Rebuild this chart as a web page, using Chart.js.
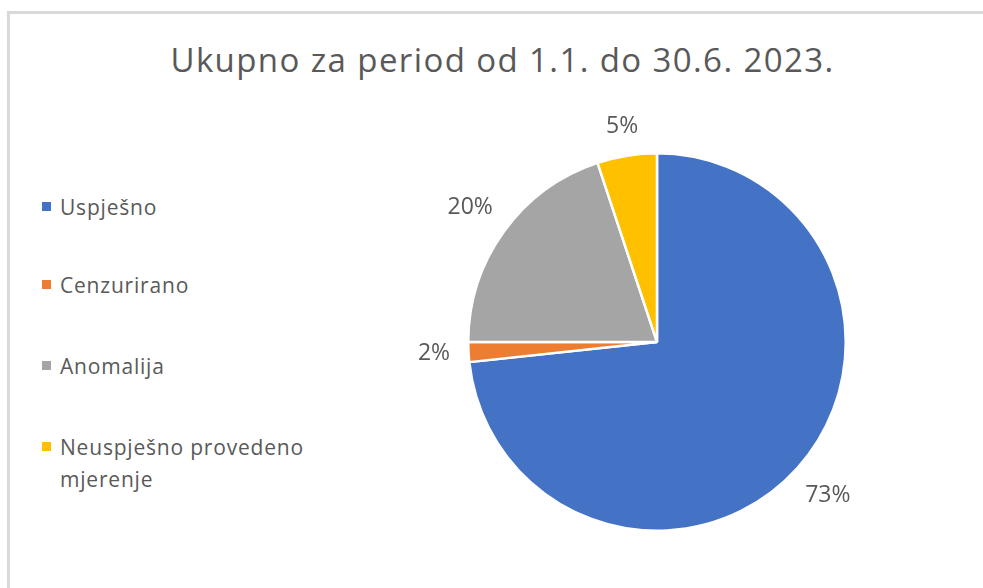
<!DOCTYPE html>
<html>
<head>
<meta charset="utf-8">
<script src="https://cdn.jsdelivr.net/npm/chart.js@4.4.0/dist/chart.umd.min.js"></script>
<style>
  html, body { margin: 0; padding: 0; background: #fff; }
  body { width: 983px; height: 588px; position: relative; overflow: hidden; font-family: "Open Sans", Lato, sans-serif; }
  #frame { position: absolute; left: 7px; top: 11px; width: 990px; height: 600px; border-left: 3px solid #d9d9d9; border-top: 3px solid #d9d9d9; }
  #title { position: absolute; left: 10px; width: 985px; top: 37px; text-align: center; font-size: 33px; letter-spacing: 1.4px; color: #595959; }
  #legend { position: absolute; left: 42px; top: 0; }
  .item { position: absolute; white-space: nowrap; font-size: 21px; letter-spacing: 0.8px; color: #595959; line-height: 32px; }
  .item span.box { position: absolute; left: 0; top: 11px; width: 9px; height: 9px; }
  .item span.txt { position: absolute; left: 18px; top: 0; }
  canvas { position: absolute; left: 0; top: 0; }
</style>
</head>
<body>
<div id="frame"></div>
<div id="title"></div>
<div id="legend"></div>
<canvas id="pie-chart" width="983" height="588"></canvas>
<script>
let titleText = "Ukupno za period od 1.1. do 30.6. 2023."
let kategorije = ["Uspješno", "Cenzurirano", "Anomalija", ["Neuspješno provedeno", "mjerenje"]]
let udjeli = [73.3, 1.7, 19.9, 5.1]
let oznake = ["73%", "2%", "20%", "5%"]
let boje = ["#4472c4", "#ed7d31", "#a5a5a5", "#ffc000"]

document.getElementById("title").textContent = titleText

// legenda lijevo
let leg = document.getElementById("legend")
let legY = [191, 269, 350, 431]
for (let i = 0; i < kategorije.length; i++) {
    let k = kategorije[i]
    let lines = Array.isArray(k) ? k : [k]
    let div = document.createElement("div")
    div.className = "item"
    div.style.top = legY[i] + "px"
    div.innerHTML = `<span class="box" style="background:${boje[i]}"></span><span class="txt">${lines.join("<br>")}</span>`
    leg.appendChild(div)
}

// postotci izvan kruga
const vanjskeOznake = {
    id: "vanjskeOznake",
    afterDatasetsDraw(chart) {
        let ctx = chart.ctx
        let meta = chart.getDatasetMeta(0)
        ctx.save()
        ctx.font = "23px 'Open Sans', Lato, sans-serif"
        ctx.fillStyle = "#595959"
        ctx.textAlign = "center"
        ctx.textBaseline = "middle"
        meta.data.forEach((arc, i) => {
            let mid = (arc.startAngle + arc.endAngle) / 2
            let dx = Math.cos(mid), dy = Math.sin(mid)
            let w = ctx.measureText(oznake[i]).width
            let d = arc.outerRadius + 18 + (w / 2) * Math.abs(dx) + 9 * Math.abs(dy)
            ctx.fillText(oznake[i], arc.x + dx * d, arc.y + dy * d)
        })
        ctx.restore()
    }
}

let ctx = document.getElementById("pie-chart").getContext("2d")
let myChart = new Chart(ctx, {
    type: "pie",
    data: {
        labels: kategorije.map(k => Array.isArray(k) ? k.join(" ") : k),
        datasets: [{
            data: udjeli,
            backgroundColor: boje,
            borderColor: "#ffffff",
            borderWidth: 2.5
        }]
    },
    options: {
        responsive: false,
        animation: false,
        layout: { padding: { left: 467, right: 136, top: 152, bottom: 56 } },
        plugins: {
            legend: { display: false },
            title: { display: false },
            tooltip: { enabled: false }
        }
    },
    plugins: [vanjskeOznake]
});
</script>
</body>
</html>
